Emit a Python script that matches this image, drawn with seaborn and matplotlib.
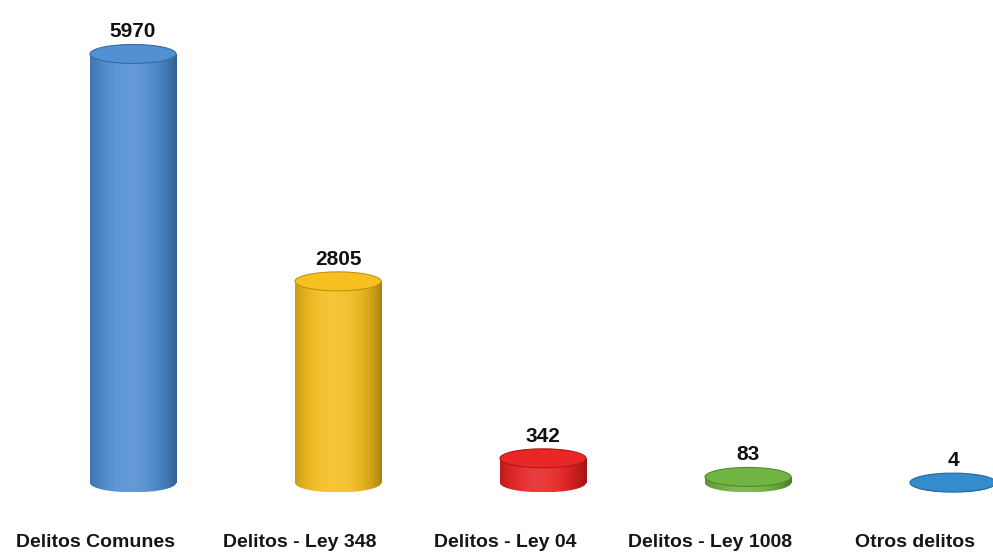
import numpy as np
import pandas as pd
import matplotlib
matplotlib.use("Agg")
import matplotlib.pyplot as plt
import matplotlib.colors as mcolors
import matplotlib.transforms as mtransforms
from matplotlib.patches import Ellipse
import seaborn as sns

# Case counts by offence type
categories = ["Delitos Comunes", "Delitos - Ley 348", "Delitos - Ley 04",
              "Delitos - Ley 1008", "Otros delitos"]
counts = [5970, 2805, 342, 83, 4]
bar_colors = ["#4a8ad0", "#f4bb18", "#e61e1e", "#6aaf3c", "#2b86c8"]

df = pd.DataFrame({"categoria": categories, "casos": counts})

sns.set_theme(style="white")
plt.rcParams["font.family"] = ["Liberation Sans", "DejaVu Sans"]

fig = plt.figure(figsize=(9.93, 5.53), dpi=100)
ax = fig.add_axes([0.0, 0.0488, 1.0, 0.9512])

bar_w = 0.42
sns.barplot(data=df, x="categoria", y="casos", hue="categoria",
            palette=bar_colors, width=bar_w, legend=False, ax=ax,
            saturation=1.0)

ax.set_xlim(-0.649, 4.195)
ax.set_ylim(-600, 6721)

# cylinder cap height in data units (from pixel scale of the y axis)
px_per_unit = ax.bbox.height / (6721 + 600)
cap_h = 19.0 / px_per_unit


def shade_strip(color, n=64):
    """Horizontal shading across a cylinder: dark rims, bright core."""
    base = np.array(mcolors.to_rgb(color))
    t = np.linspace(0, 1, n)
    light = np.exp(-((t - 0.45) / 0.3) ** 2) * 0.14
    dark = (np.abs(t - 0.45) / 0.55) ** 3 * 0.3
    rgb = base[None, :] * (1 - dark[:, None]) + (1 - base[None, :]) * light[:, None]
    rgb = np.clip(rgb, 0, 1)
    return rgb[None, :, :]


bars = [p for p in list(ax.patches)]
for patch, color, val in zip(bars, bar_colors, counts):
    x0 = patch.get_x()
    w = patch.get_width()
    h = patch.get_height()
    xc = x0 + w / 2
    strip = shade_strip(color)
    dark = np.array(mcolors.to_rgb(color)) * 0.78

    # bottom rounded part of the cylinder
    bottom = Ellipse((xc, 0), w, cap_h, facecolor="none", edgecolor="none", zorder=2)
    ax.add_patch(bottom)
    im_b = ax.imshow(strip, extent=(x0, x0 + w, -cap_h / 2, 0), aspect="auto",
                     interpolation="bilinear", zorder=2)
    im_b.set_clip_path(bottom)

    # cylinder body
    patch.set_facecolor("none")
    patch.set_edgecolor("none")
    if h > 0:
        im = ax.imshow(strip, extent=(x0, x0 + w, 0, h), aspect="auto",
                       interpolation="bilinear", zorder=2)
        im.set_clip_path(patch)

    # top cap
    top_col = np.clip(np.array(mcolors.to_rgb(color)) * 0.97 + 0.04, 0, 1)
    ax.add_patch(Ellipse((xc, h), w, cap_h, facecolor=top_col,
                         edgecolor=dark, linewidth=0.8, zorder=3))

    # value label above the cylinder
    ax.annotate(f"{h:.0f}", (xc, h), xytext=(0, 9), textcoords="offset points",
                ha="center", va="bottom", fontsize=15, fontweight="bold",
                color="#111111", zorder=4)

ax.set_xlabel("")
ax.set_ylabel("")
ax.set_yticks([])
ax.tick_params(axis="x", length=0, pad=6, labelsize=14, labelcolor="#151515")
for lbl in ax.get_xticklabels():
    lbl.set_fontweight("bold")
    lbl.set_transform(lbl.get_transform() +
                      mtransforms.ScaledTranslation(-0.38, 0, fig.dpi_scale_trans))
sns.despine(ax=ax, left=True, bottom=True)

fig.savefig("out.png", dpi=100, facecolor="white")
